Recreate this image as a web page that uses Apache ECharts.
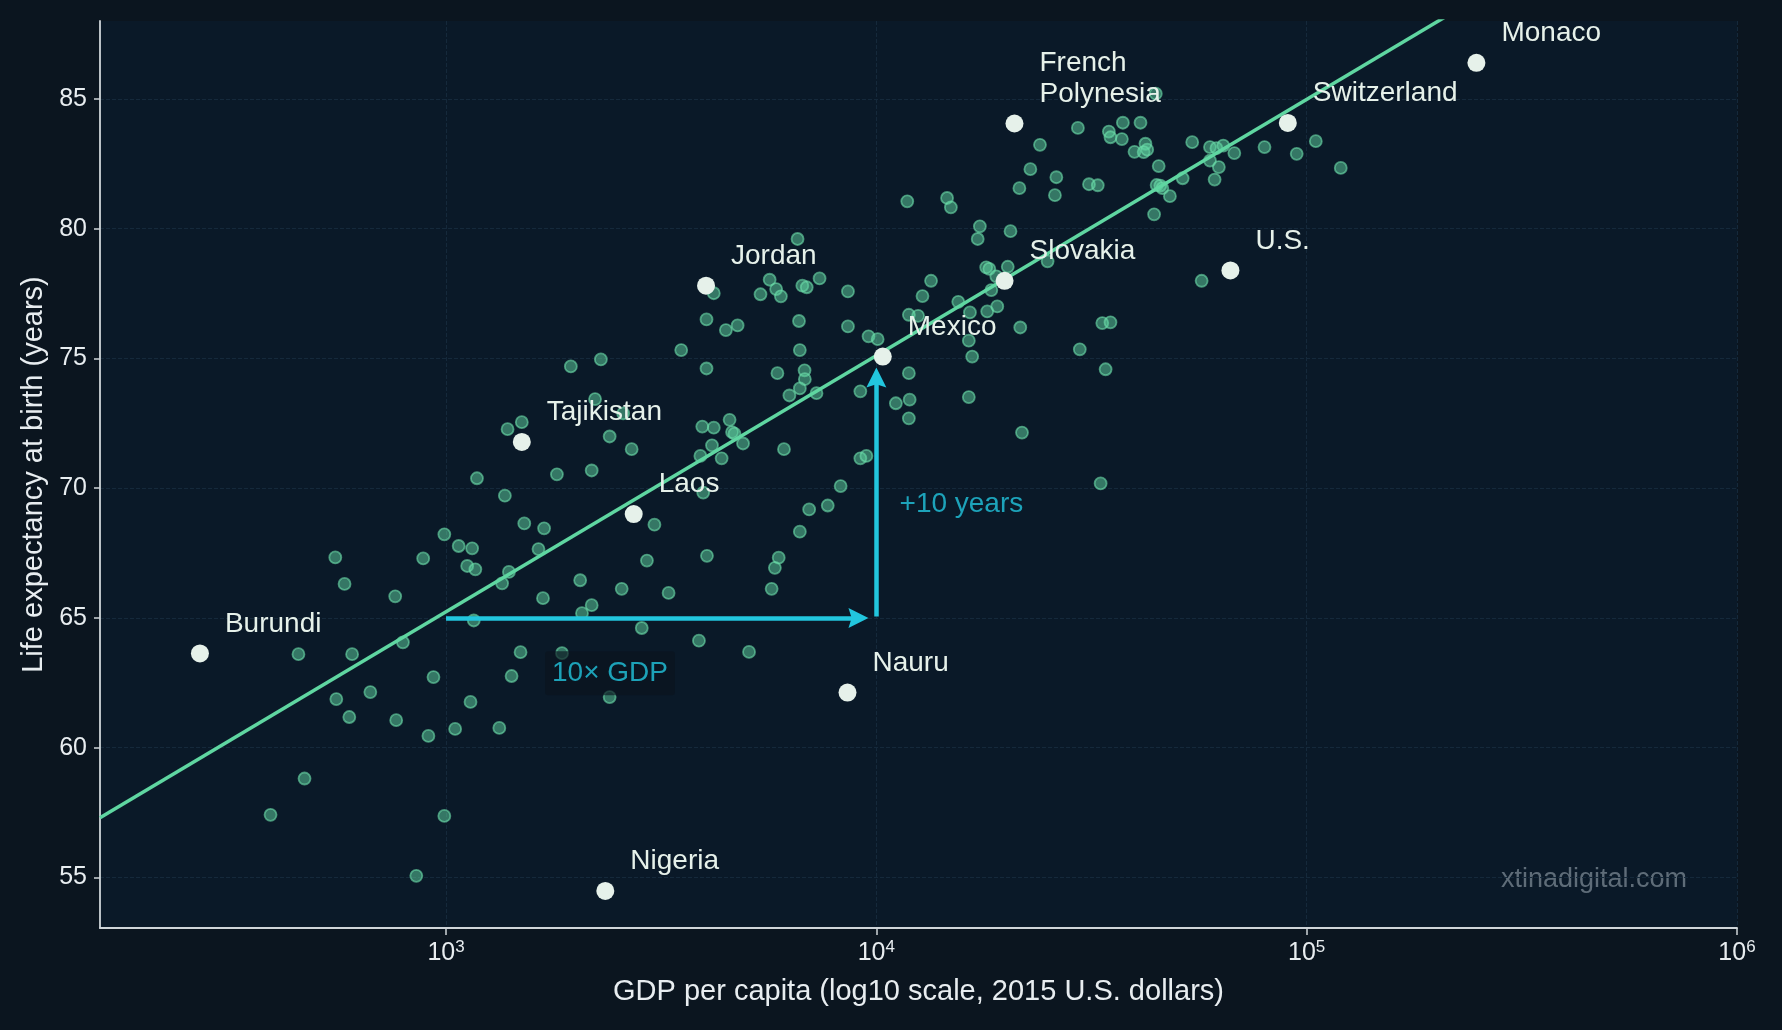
<!DOCTYPE html>
<html>
<head>
<meta charset="utf-8">
<title>Life expectancy vs GDP per capita</title>
<script src="https://cdn.jsdelivr.net/npm/echarts@6/dist/echarts.min.js"></script>
<style>
  html, body { margin: 0; padding: 0; background: #0b151f; }
  #chart { width: 1782px; height: 1030px; }
</style>
</head>
<body>
<div id="chart"></div>
<script>
var FONT = "'Liberation Sans', Arial, Helvetica, sans-serif";
var MINT = '#5fd6a1', CYAN = '#22c6de', LIGHT = '#e6f1ea', AXIS = '#cfd5d9', TEXT = '#e8edf0';
var ARROW_HEAD = 'path://M5,0 L10,10 L5,8.4 L0,10 Z';

// every country (GDP per capita, 2015 US$ / life expectancy, years)
var gdpPerCapita = [
  1520,1690,991,1070,1150,1640,553,885,1120,1170,1400,2050,581,1350,762,1680,2180,2070,1160,794,
  454,605,1490,1860,935,1420,667,556,1140,596,766,1050,1330,910,469,391,991,853,
  1180,1370,1810,2180,1500,1390,1950,2290,2220,2580,2400,2700,
  3050,2930,4040,5930,5810,6640,6980,7710,2560,3290,5710,2850,3870,5060,2400,
  3520,4030,4190,6560,5650,5850,6000,5380,6730,6890,7380,8590,4470,4760,6610,8590,9590,10070,6640,4030,
  5890,6810,6820,6640,6280,7260,9180,11900,11100,11950,11900,4560,4190,3940,4620,4680,4900,4150,4370,3900,
  6100,9180,9480,8260,3960,
  11800,14600,14900,17400,17200,20500,25000,18000,18300,20200,19000,18500,13400,15500,16500,18100,19100,21600,
  33500,35000,16400,29700,16700,12800,12500,11900,16400,21800,34100,33200,57000,
  44600,24000,22800,26200,21500,26000,29400,37400,41100,34700,35000,37200,42200,39800,41800,42600,54200,59600,
  61700,64000,67900,79800,94800,105000,120000,45300,59600,62500,61100,51500,31200,32700,44800,45700,46200,48100,44200
];
var lifeExpectancy = [
  68.64,68.45,68.22,67.77,67.68,67.65,67.33,67.29,67.00,66.87,66.77,66.45,66.31,66.33,65.83,65.76,65.49,65.18,64.90,64.06,
  63.60,63.60,63.68,63.64,62.72,62.76,62.14,61.87,61.76,61.18,61.06,60.72,60.76,60.45,58.81,57.41,57.37,55.06,
  70.38,69.71,70.53,70.68,72.54,72.27,74.69,74.96,73.43,72.88,71.99,71.50,
  68.59,67.21,67.39,67.32,66.93,68.32,69.18,69.33,66.12,65.96,66.12,64.61,64.12,63.69,61.95,
  75.32,76.50,77.51,79.60,78.03,77.67,77.39,77.47,77.80,77.74,78.08,77.58,76.09,76.27,76.44,76.23,75.85,75.74,75.32,74.61,
  74.43,74.54,74.20,73.84,73.57,73.66,73.73,74.43,73.27,73.41,72.69,72.63,72.33,72.37,72.16,72.10,71.72,71.65,71.15,71.24,
  71.50,71.15,71.24,70.08,69.83,
  81.05,81.18,80.82,80.09,79.60,79.90,78.74,78.51,78.45,78.53,78.16,77.63,77.99,77.18,76.77,76.81,77.00,76.19,
  76.36,76.39,75.68,75.35,75.07,77.40,76.64,76.68,73.51,72.14,74.58,70.18,77.99,
  85.20,83.23,82.29,81.98,81.56,81.29,83.88,84.08,84.08,83.74,83.52,83.45,83.27,82.96,82.95,83.04,83.33,83.14,
  83.10,83.20,82.91,83.14,82.88,83.37,82.34,82.41,82.62,82.37,81.89,81.94,81.71,81.67,81.68,81.66,81.56,81.25,80.55
];

// labelled countries
var labelNames = ['Burundi','Tajikistan','Laos','Jordan','Mexico','Slovakia','French\nPolynesia','Switzerland','Monaco','U.S.','Nauru','Nigeria'];
var labelGdp   = [268, 1500, 2730, 4020, 10350, 19860, 20940, 90400, 248000, 66500, 8570, 2345];
var labelLife  = [63.63, 71.78, 69.0, 77.80, 75.07, 77.99, 84.05, 84.07, 86.39, 78.39, 62.12, 54.48];

// fitted trend line end points
var trendGdp  = [157, 1000000];
var trendLife = [57.3, 94.85];

// "10x GDP" / "+10 years" annotation
var gdpArrowGdp = [1000, 9087];
var gdpArrowLife = [65, 65];
var yearsArrowGdp = [10000, 10000];
var yearsArrowLife = [65.05, 74.26];
var noteText = ['10× GDP', '+10 years'];
var noteGdp  = [1694, 11290];
var noteLife = [62.87, 69.36];

var xTicks = [1000, 10000, 100000, 1000000];
var yTicks = [55, 60, 65, 70, 75, 80, 85];

var chart = echarts.init(document.getElementById('chart'));

var points = [];
for (var i = 0; i < gdpPerCapita.length; i++) {
  points.push([gdpPerCapita[i], lifeExpectancy[i]]);
}
var named = [];
for (var i = 0; i < labelNames.length; i++) {
  named.push({ name: labelNames[i], value: [labelGdp[i], labelLife[i]] });
}
var trend = [];
for (var i = 0; i < trendGdp.length; i++) {
  trend.push([trendGdp[i], trendLife[i]]);
}
var notes = [];
for (var i = 0; i < noteText.length; i++) {
  var d = { name: noteText[i], value: [noteGdp[i], noteLife[i]] };
  if (i === 0) {
    d.label = { backgroundColor: 'rgba(11,20,30,0.82)', padding: [8, 7], borderRadius: 3 };
  }
  notes.push(d);
}

function xLabel(v) {
  var l = Math.log(v) / Math.LN10;
  var p = Math.round(l);
  if (Math.abs(l - p) > 1e-4) return '';
  return '{b|10}{s|' + p + '}';
}

var option = {
  backgroundColor: '#0b151f',
  animation: false,
  textStyle: { fontFamily: FONT },
  grid: {
    left: 100, right: 45, top: 21, bottom: 102,
    show: true, backgroundColor: '#0a1928', borderWidth: 0,
    containLabel: false, outerBoundsMode: 'none'
  },
  xAxis: {
    type: 'log', logBase: 10, min: 157, max: 1000000,
    axisLine: { show: true, lineStyle: { color: AXIS, width: 1.8 } },
    axisTick: { show: true, length: 7, customValues: xTicks, lineStyle: { color: AXIS, width: 1.5 } },
    axisLabel: {
      margin: 11, formatter: xLabel,
      rich: {
        b: { fontSize: 25, color: TEXT, fontFamily: FONT, lineHeight: 28 },
        s: { fontSize: 17, color: TEXT, fontFamily: FONT, verticalAlign: 'top', lineHeight: 17 }
      }
    },
    splitLine: { show: true, lineStyle: { color: '#15293b', type: 'dashed', width: 1 } },
    name: 'GDP per capita (log10 scale, 2015 U.S. dollars)',
    nameLocation: 'middle', nameGap: 49,
    nameTextStyle: { color: TEXT, fontSize: 29, fontFamily: FONT }
  },
  yAxis: {
    type: 'value', min: 53.05, max: 88,
    axisLine: { show: true, lineStyle: { color: AXIS, width: 1.8 } },
    axisTick: { show: true, length: 6, customValues: yTicks, lineStyle: { color: AXIS, width: 1.5 } },
    axisLabel: {
      margin: 13, color: TEXT, fontSize: 25, fontFamily: FONT, customValues: yTicks,
      formatter: function (v) { return Math.abs(v % 5) < 1e-6 ? String(v) : ''; }
    },
    splitLine: { show: true, lineStyle: { color: '#15293b', type: 'dashed', width: 1 } },
    name: 'Life expectancy at birth (years)',
    nameLocation: 'middle', nameGap: 51, nameRotate: 90,
    nameTextStyle: { color: TEXT, fontSize: 29, fontFamily: FONT }
  },
  series: [
    {
      name: 'countries', type: 'scatter', z: 2, silent: true,
      symbolSize: 12, data: points,
      itemStyle: { color: 'rgba(95,214,161,0.5)', borderColor: 'rgba(110,224,172,0.6)', borderWidth: 1.8, opacity: 1 }
    },
    {
      name: 'trend', type: 'line', z: 3, silent: true, clip: true,
      data: trend, showSymbol: false, symbol: 'none',
      lineStyle: { color: MINT, width: 3.5 },
      markLine: {
        silent: true, symbol: ['none', ARROW_HEAD], symbolSize: 20,
        label: { show: false },
        lineStyle: { color: CYAN, width: 4.5, type: 'solid', opacity: 1 },
        itemStyle: { color: CYAN },
        emphasis: { disabled: true },
        data: [
          [{ coord: [gdpArrowGdp[0], gdpArrowLife[0]] }, { coord: [gdpArrowGdp[1], gdpArrowLife[1]] }],
          [{ coord: [yearsArrowGdp[0], yearsArrowLife[0]] }, { coord: [yearsArrowGdp[1], yearsArrowLife[1]] }]
        ]
      }
    },
    {
      name: 'labelled', type: 'scatter', z: 4, silent: true,
      symbolSize: 18, data: named,
      itemStyle: { color: LIGHT, opacity: 1 },
      label: {
        show: true, formatter: '{b}', position: 'right', distance: 16,
        verticalAlign: 'bottom', offset: [0, -14],
        color: LIGHT, fontSize: 28, lineHeight: 31, fontFamily: FONT
      }
    },
    {
      name: 'notes', type: 'scatter', z: 5, silent: true,
      symbolSize: 1, data: notes,
      itemStyle: { color: 'rgba(0,0,0,0)' },
      label: {
        show: true, formatter: '{b}', position: 'right', distance: 0,
        color: CYAN, fontSize: 28, fontFamily: FONT
      }
    }
  ],
  graphic: [
    {
      type: 'text', right: 95, top: 866, silent: true,
      style: { text: 'xtinadigital.com', fill: '#5e6c78', fontSize: 27, fontFamily: FONT }
    }
  ]
};

chart.setOption(option);
</script>
</body>
</html>
